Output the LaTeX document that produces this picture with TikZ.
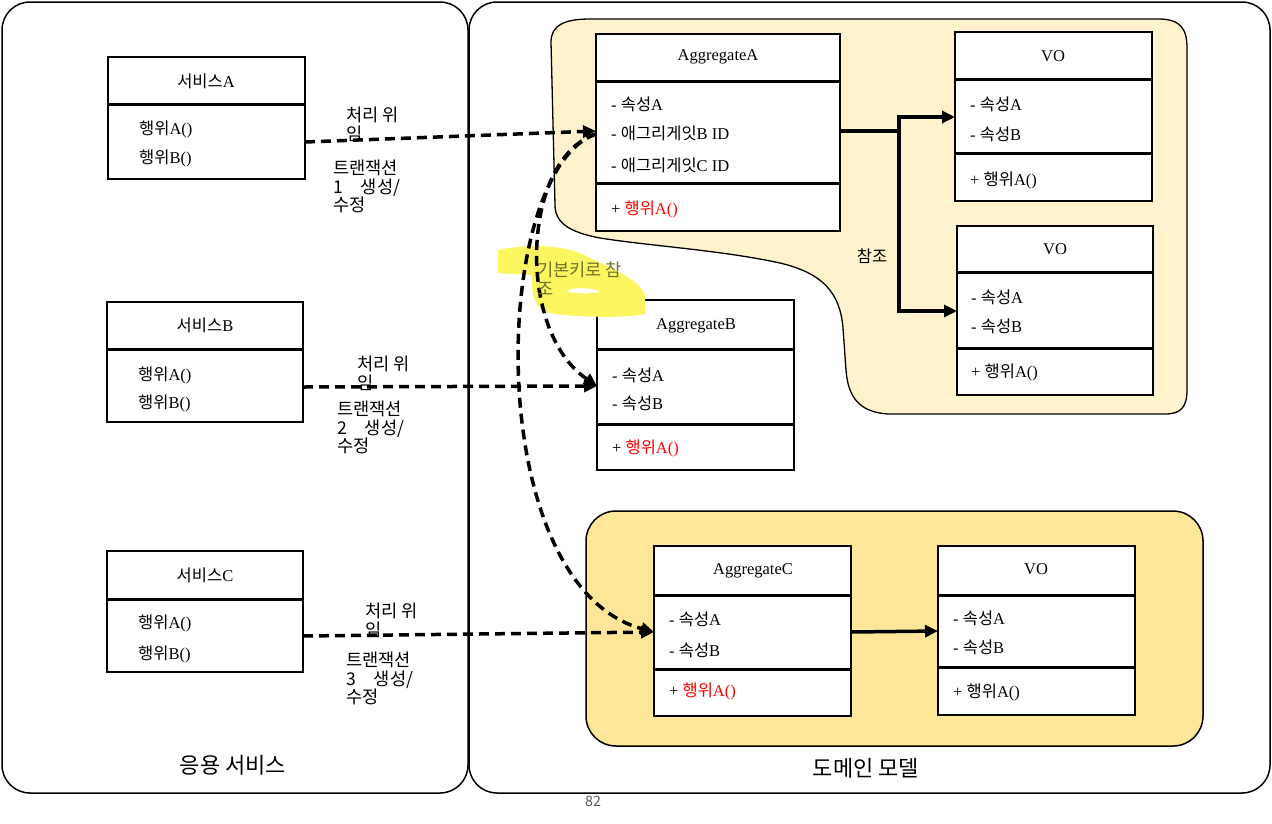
\documentclass[tikz,border=0pt]{standalone}
\usepackage{fontspec}
\setmainfont{Liberation Serif}[Scale=1.1]
\newfontfamily\kr{Noto Sans CJK KR}[Scale=1.1]
\usetikzlibrary{arrows.meta,calc}
\newcommand\K[1]{{\kr #1}}
\definecolor{grpA}{RGB}{255,242,204}
\definecolor{grpC}{RGB}{255,230,153}
\definecolor{hlyel}{RGB}{252,246,96}
\definecolor{hltext}{RGB}{112,112,48}
\definecolor{myred}{RGB}{255,0,0}
\tikzset{
  panel/.style={draw=black, line width=1.5pt, rounded corners=28pt, inner sep=0pt, outer sep=0pt, anchor=north west},
  ubox/.style={draw=black, line width=2pt, fill=white, inner sep=0pt, outer sep=0pt, anchor=north west},
  divider/.style={line width=3pt},
  ttl/.style={inner sep=0pt, font=\fontsize{15}{17}\selectfont},
  item/.style={inner sep=0pt, anchor=west, font=\fontsize{15}{17}\selectfont},
  lbl/.style={inner sep=0pt, anchor=north west, align=left, font=\kr\fontsize{16}{18.5}\selectfont},
  dasharrow/.style={line width=3.5pt, dash pattern=on 10pt off 6pt, -{Triangle[length=13pt,width=12pt]}},
  solidarrow/.style={line width=3.5pt, -{Triangle[length=13pt,width=12pt]}},
  thickline/.style={line width=3.5pt},
  grouptop/.style={draw=black, line width=1.3pt, fill=grpA},
  groupbot/.style={draw=black, line width=1.5pt, fill=grpC, rounded corners=30pt, inner sep=0pt, outer sep=0pt, anchor=north west},
  bigtxt/.style={inner sep=0pt, font=\kr\fontsize{20}{24}\selectfont}
}
% name, x1, y1, x2, y2
\newcommand\umlbox[5]{%
  \node[ubox, minimum width={(#4-#2)*1pt}, minimum height={(#5-#3)*1pt}] (#1) at (#2,#3) {};}
\newcommand\umldiv[2]{%
  \draw[divider] (#1.west |- 0,#2) -- (#1.east |- 0,#2);}
\begin{document}
\begin{tikzpicture}[x=1pt,y=-1pt]
\useasboundingbox (0,0) rectangle (1272,823);
\fill[white] (0,0) rectangle (1272,823);

% panels
\node[panel, minimum width=466pt, minimum height=791pt] (app) at (2,2) {};
\node[panel, minimum width=801pt, minimum height=791pt] (dom) at (469,2) {};
\node[bigtxt] (appT) at (233,765) {응용 서비스};
\node[bigtxt] (domT) at (866,768) {도메인 모델};
\node[inner sep=0pt, text=black!65, font=\kr\fontsize{13}{15}\selectfont] (pg) at (593,801) {82};

% groups
\path[grouptop] (551,42) .. controls (551,25) and (565,19) .. (590,19)
  -- (1158,19) .. controls (1180,19) and (1187,28) .. (1187,48)
  -- (1187,390) .. controls (1187,408) and (1180,414) .. (1165,414)
  -- (888,414) .. controls (858,412) and (848,396) .. (846,370)
  -- (843,328) .. controls (840,292) and (822,273) .. (780,263)
  .. controls (720,250) and (650,246) .. (600,238)
  .. controls (568,232) and (555,222) .. (555,205) -- cycle;
\node[groupbot, minimum width=617pt, minimum height=235pt] (grpC) at (586,511) {};

% service boxes
\umlbox{svcA}{108}{57}{305}{179}\umldiv{svcA}{104}
\node[ttl] (svcAt) at (206,81) {\K{서비스}A};
\node[item] (svcA1) at (139,129) {\K{행위}A()};
\node[item] (svcA2) at (139,158) {\K{행위}B()};

\umlbox{svcB}{107}{302}{303}{422}\umldiv{svcB}{349}
\node[ttl] (svcBt) at (205,325) {\K{서비스}B};
\node[item] (svcB1) at (138,375) {\K{행위}A()};
\node[item] (svcB2) at (138,403) {\K{행위}B()};

\umlbox{svcC}{107}{551}{303}{672}\umldiv{svcC}{599}
\node[ttl] (svcCt) at (205,575) {\K{서비스}C};
\node[item] (svcC1) at (138,623) {\K{행위}A()};
\node[item] (svcC2) at (138,654) {\K{행위}B()};

% aggregate A
\umlbox{aggA}{596}{34}{840}{231}\umldiv{aggA}{81}\umldiv{aggA}{183}
\node[ttl] (aggAt) at (718,57) {AggregateA};
\node[item] (aggA1) at (611,104) {- \K{속성}A};
\node[item] (aggA2) at (611,133) {- \K{애그리게잇}B ID};
\node[item] (aggA3) at (611,165) {- \K{애그리게잇}C ID};
\node[item] (aggA4) at (611,209) {+ \textcolor{myred}{\K{행위}A()}};

% VO 1
\umlbox{vo1}{955}{32}{1152}{201}\umldiv{vo1}{79}\umldiv{vo1}{153}
\node[ttl] (vo1t) at (1053,56) {VO};
\node[item] (vo11) at (970,104) {- \K{속성}A};
\node[item] (vo12) at (970,134) {- \K{속성}B};
\node[item] (vo13) at (970,180) {+ \K{행위}A()};

% VO 2
\umlbox{vo2}{957}{226}{1153}{395}\umldiv{vo2}{272}\umldiv{vo2}{348}
\node[ttl] (vo2t) at (1055,249) {VO};
\node[item] (vo21) at (971,297) {- \K{속성}A};
\node[item] (vo22) at (971,326) {- \K{속성}B};
\node[item] (vo23) at (971,372) {+ \K{행위}A()};

% aggregate B
\umlbox{aggB}{597}{300}{794}{470}\umldiv{aggB}{349}\umldiv{aggB}{424}
\node[ttl] (aggBt) at (696,326) {AggregateB};
\node[item] (aggB1) at (612,375) {- \K{속성}A};
\node[item] (aggB2) at (612,403) {- \K{속성}B};
\node[item] (aggB3) at (612,448) {+ \textcolor{myred}{\K{행위}A()}};

% aggregate C
\umlbox{aggC}{654}{546}{851}{716}\umldiv{aggC}{595}\umldiv{aggC}{669}
\node[ttl] (aggCt) at (753,571) {AggregateC};
\node[item] (aggC1) at (669,619) {- \K{속성}A};
\node[item] (aggC2) at (669,650) {- \K{속성}B};
\node[item] (aggC3) at (669,691) {+ \textcolor{myred}{\K{행위}A()}};

% VO 3
\umlbox{vo3}{938}{546}{1135}{715}\umldiv{vo3}{595}\umldiv{vo3}{667}
\node[ttl] (vo3t) at (1036,569) {VO};
\node[item] (vo31) at (953,618) {- \K{속성}A};
\node[item] (vo32) at (953,647) {- \K{속성}B};
\node[item] (vo33) at (953,692) {+ \K{행위}A()};

% reference arrows
\coordinate (j) at (899,131);
\draw[thickline] (aggA.east |- j) -- (j);
\draw[solidarrow] (j) |- (vo1.west |- 0,117);
\draw[solidarrow] (j) |- (vo2.west |- 0,311);
\node[inner sep=0pt, font=\kr\fontsize{15}{18}\selectfont] (ref) at (872,256) {참조};
\draw[solidarrow] (aggC.east |- 0,632) -- (vo3.west |- 0,631);

% highlight
\fill[hlyel, even odd rule] (498,250) .. controls (520,245) and (562,243) .. (586,256)
  .. controls (606,266) and (640,279) .. (645,295) -- (645,314)
  .. controls (628,318) and (570,318) .. (545,312)
  .. controls (533,305) and (531,290) .. (532,275) -- (498,273) -- cycle
  (566,291) .. controls (572,287) and (594,287) .. (600,292) .. controls (590,294) and (572,294) .. (566,291);

% service arrows
\draw[dasharrow] (svcA.east |- 0,142) -- (aggA.west |- 0,131);
\draw[dasharrow] (svcB.east |- 0,387) -- (aggB.west |- 0,386);
\draw[dasharrow] (svcC.east |- 0,636) -- (aggC.west |- 0,632);

% primary key reference curves
\draw[dasharrow] (aggA.west |- 0,134) .. controls (522,158) and (515,330) .. (aggB.west |- 0,386);
\draw[dasharrow] (aggA.west |- 0,134) .. controls (490,170) and (480,585) .. (aggC.west |- 0,632);

\node[lbl, text=hltext] (pk) at (537,262) {기본키로 참\\조};

% transaction labels
\node[lbl] (labA1) at (346,107) {처리 위\\임};
\node[lbl] (labA2) at (333,160) {트랜잭션\\1\hspace{18pt}생성/\\수정};
\node[lbl] (labB1) at (357,356) {처리 위\\임};
\node[lbl] (labB2) at (337,401) {트랜잭션\\2\hspace{18pt}생성/\\수정};
\node[lbl] (labC1) at (365,603) {처리 위\\임};
\node[lbl] (labC2) at (346,652) {트랜잭션\\3\hspace{18pt}생성/\\수정};
\end{tikzpicture}
\end{document}
